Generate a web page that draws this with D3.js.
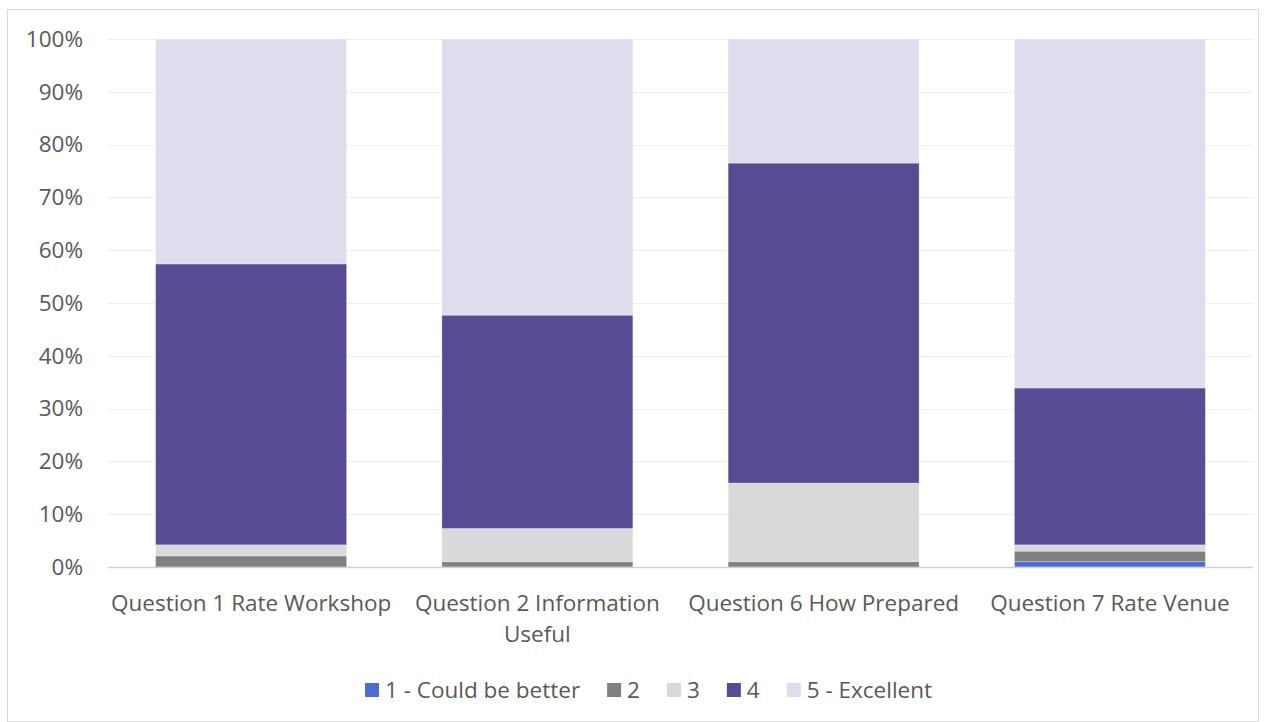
<!DOCTYPE html>
<html>
<head>
<meta charset="utf-8">
<script src="https://cdn.jsdelivr.net/npm/d3@7"></script>
<style>
  html, body { margin: 0; padding: 0; background: #fff; }
  svg text { font-family: "Open Sans", "Noto Sans", sans-serif; fill: #595959; }
</style>
</head>
<body>
<svg id="chart" width="1267" height="722"></svg>
<script>
// Survey questions on the x axis
const categories = [
  ["Question 1 Rate Workshop"],
  ["Question 2 Information", "Useful"],
  ["Question 6 How Prepared"],
  ["Question 7 Rate Venue"]
];
// Rating labels (legend) and their colours
const ratings = ["1 - Could be better", "2", "3", "4", "5 - Excellent"];
const colors = ["#4e6bcf", "#808080", "#d9d9d9", "#584b93", "#dfdcee"];
// Share of responses (%) per rating, one array per rating, in question order
const r1 = [0.0, 0.0, 0.0, 1.0];
const r2 = [2.1, 1.0, 1.0, 2.0];
const r3 = [2.1, 6.3, 14.9, 1.2];
const r4 = [53.2, 40.4, 60.6, 29.7];
const r5 = [42.6, 52.3, 23.5, 66.1];
const yTicks = [0, 10, 20, 30, 40, 50, 60, 70, 80, 90, 100];

const series = [r1, r2, r3, r4, r5];
const FS = 22.5;
const svg = d3.select("#chart");

// outer chart frame
svg.append("rect")
  .attr("x", 7.5).attr("y", 9.5).attr("width", 1251).attr("height", 712)
  .attr("fill", "#fff").attr("stroke", "#d9d9d9").attr("stroke-width", 1);

const plot = { left: 108, right: 1253, top: 39, bottom: 567 };

const x = d3.scaleBand()
  .domain(d3.range(categories.length))
  .range([plot.left, plot.right])
  .paddingInner(0.333).paddingOuter(0.1665);

const y = d3.scaleLinear().domain([0, 100]).range([plot.bottom, plot.top]);

// horizontal gridlines
svg.append("g").selectAll("line").data(yTicks.filter(d => d > 0)).join("line")
  .attr("x1", plot.left).attr("x2", plot.right)
  .attr("y1", d => Math.round(y(d)) + 0.5).attr("y2", d => Math.round(y(d)) + 0.5)
  .attr("stroke", "#efefef").attr("stroke-width", 1);

// y axis labels
const yAxis = d3.axisLeft(y).tickValues(yTicks).tickFormat(d => d + "%").tickSize(0).tickPadding(0);
const gy = svg.append("g").attr("transform", `translate(${83},0)`).call(yAxis);
gy.select(".domain").remove();
gy.selectAll("text").attr("font-size", FS).style("fill", "#595959")
  .attr("font-family", "Open Sans, sans-serif");

// stacked bars
const stackData = categories.map((c, i) => {
  const o = { i };
  series.forEach((s, k) => o["k" + k] = s[i]);
  return o;
});
const stack = d3.stack().keys(series.map((s, k) => "k" + k));
const layers = stack(stackData);

svg.append("g").selectAll("g").data(layers).join("g")
  .attr("fill", (d, k) => colors[k])
  .selectAll("rect").data(d => d).join("rect")
  .attr("x", d => x(d.data.i))
  .attr("width", x.bandwidth())
  .attr("y", d => y(d[1]))
  .attr("height", d => Math.max(0, y(d[0]) - y(d[1])))
  .attr("stroke", d => (d[1] - d[0]) > 0 ? "rgba(255,255,255,0.35)" : "none")
  .attr("stroke-width", 0.75);

// x axis line
svg.append("line")
  .attr("x1", plot.left).attr("x2", plot.right)
  .attr("y1", plot.bottom + 0.5).attr("y2", plot.bottom + 0.5)
  .attr("stroke", "#d0d0d0").attr("stroke-width", 1.5);

// category labels
const xl = svg.append("g");
categories.forEach((lines, i) => {
  const t = xl.append("text")
    .attr("x", x(i) + x.bandwidth() / 2)
    .attr("y", 611)
    .attr("text-anchor", "middle")
    .attr("font-size", FS);
  lines.forEach((ln, j) => {
    t.append("tspan").attr("x", x(i) + x.bandwidth() / 2).attr("dy", j === 0 ? 0 : 31).text(ln);
  });
});

// legend
const legend = svg.append("g");
let lx = 365;
ratings.forEach((r, k) => {
  legend.append("rect")
    .attr("x", lx).attr("y", 683).attr("width", 14).attr("height", 14)
    .attr("fill", colors[k]);
  const t = legend.append("text")
    .attr("x", lx + 20).attr("y", 698)
    .attr("font-size", FS).text(r);
  lx += 20 + t.node().getComputedTextLength() + 27;
});
</script>
</body>
</html>
